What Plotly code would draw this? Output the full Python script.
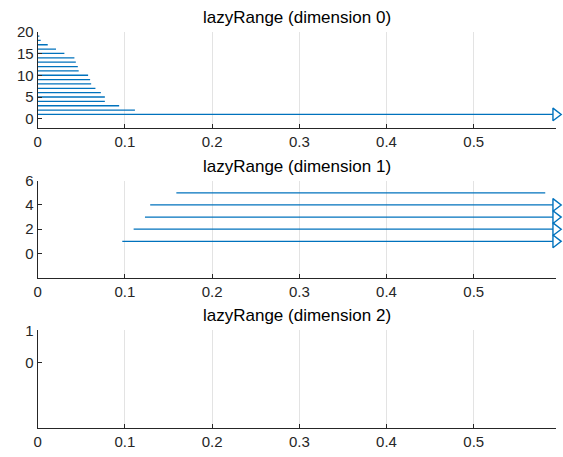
import plotly.graph_objects as go

# ---- data ----
x_max = 0.594
x_ticks = [0, 0.1, 0.2, 0.3, 0.4, 0.5]
x_tick_labels = ["0", "0.1", "0.2", "0.3", "0.4", "0.5"]

dim0_y = list(range(1, 20))
dim0_start = [0.0] * 19
dim0_end = [0.594, 0.1115, 0.0934, 0.077, 0.077, 0.0724, 0.0662, 0.0613, 0.0601,
            0.0578, 0.047, 0.046, 0.0437, 0.0421, 0.0306, 0.021, 0.0115, 0.0034, 0.0019]
dim0_open = [True] + [False] * 18

dim1_y = [1, 2, 3, 4, 5]
dim1_start = [0.097, 0.110, 0.123, 0.129, 0.159]
dim1_end = [0.594, 0.594, 0.594, 0.594, 0.582]
dim1_open = [True, True, True, True, False]

dim2_y = []
dim2_start = []
dim2_end = []
dim2_open = []

titles = ["lazyRange (dimension 0)", "lazyRange (dimension 1)", "lazyRange (dimension 2)"]
y_ranges = [[-2, 20], [-2, 6], [-2, 1]]
y_ticks = [[0, 5, 10, 15, 20], [0, 2, 4, 6], [0, 1]]

datasets = [
    (dim0_y, dim0_start, dim0_end, dim0_open),
    (dim1_y, dim1_start, dim1_end, dim1_open),
    (dim2_y, dim2_start, dim2_end, dim2_open),
]

BLUE = "#0072BD"
AX = "#262626"
FONT = "Liberation Sans, Arial, sans-serif"

W, H = 563, 457
x_dom = [37.7 / W, 555.7 / W]
y_px = [(31.7, 127.5), (180.7, 277.7), (330.3, 427.7)]

fig = go.Figure()
layout = dict(
    width=W, height=H, margin=dict(l=0, r=0, t=0, b=0, autoexpand=False),
    paper_bgcolor="white", plot_bgcolor="white", showlegend=False,
    font=dict(family=FONT, size=15, color=AX),
)
annotations = []
for i, ((ys, xs0, xs1, opn), title, yr, yt, (top, bot)) in enumerate(
        zip(datasets, titles, y_ranges, y_ticks, y_px)):
    n = "" if i == 0 else str(i + 1)
    xa, ya = "x" + n, "y" + n
    lx, ly = [], []
    for y, a, b in zip(ys, xs0, xs1):
        lx += [a, b, None]
        ly += [y, y, None]
    if lx:
        fig.add_trace(go.Scatter(x=lx, y=ly, mode="lines", xaxis=xa, yaxis=ya,
                                 line=dict(color=BLUE, width=1.3), hoverinfo="skip"))
    mx = [b for b, o in zip(xs1, opn) if o]
    my = [y for y, o in zip(ys, opn) if o]
    if mx:
        fig.add_trace(go.Scatter(x=mx, y=my, mode="markers", xaxis=xa, yaxis=ya,
                                 marker=dict(symbol="triangle-right", size=11, color="white",
                                             line=dict(color=BLUE, width=1.4)),
                                 cliponaxis=False, hoverinfo="skip"))
    if not lx:
        fig.add_trace(go.Scatter(x=[None], y=[None], xaxis=xa, yaxis=ya, mode="lines"))
    ydom = [1 - bot / H, 1 - top / H]
    layout["xaxis" + n] = dict(
        domain=x_dom, anchor=ya, range=[0, x_max], tickvals=x_ticks, ticktext=x_tick_labels,
        showgrid=True, gridcolor="#e3e3e3", gridwidth=1, zeroline=False, automargin=False,
        showline=True, linecolor=AX, linewidth=1, ticks="inside", ticklen=4,
        tickcolor=AX, tickfont=dict(size=15, color=AX),
    )
    layout["yaxis" + n] = dict(
        domain=ydom, anchor=xa, range=yr, tickvals=yt, automargin=False,
        showgrid=False, zeroline=False, showline=True, linecolor=AX, linewidth=1,
        ticks="inside", ticklen=4, tickcolor=AX, tickfont=dict(size=15, color=AX),
    )
    annotations.append(dict(
        text=title, x=(x_dom[0] + x_dom[1]) / 2, xref="paper", y=1 - (top - 3) / H,
        yref="paper", xanchor="center", yanchor="bottom", showarrow=False,
        font=dict(size=17, color="black", family=FONT),
    ))
layout["annotations"] = annotations
fig.update_layout(**layout)
fig.write_html(
    "out.html",
    config={"displayModeBar": False},
    post_script="document.body.style.margin='0';document.body.style.overflow='hidden';",
)
